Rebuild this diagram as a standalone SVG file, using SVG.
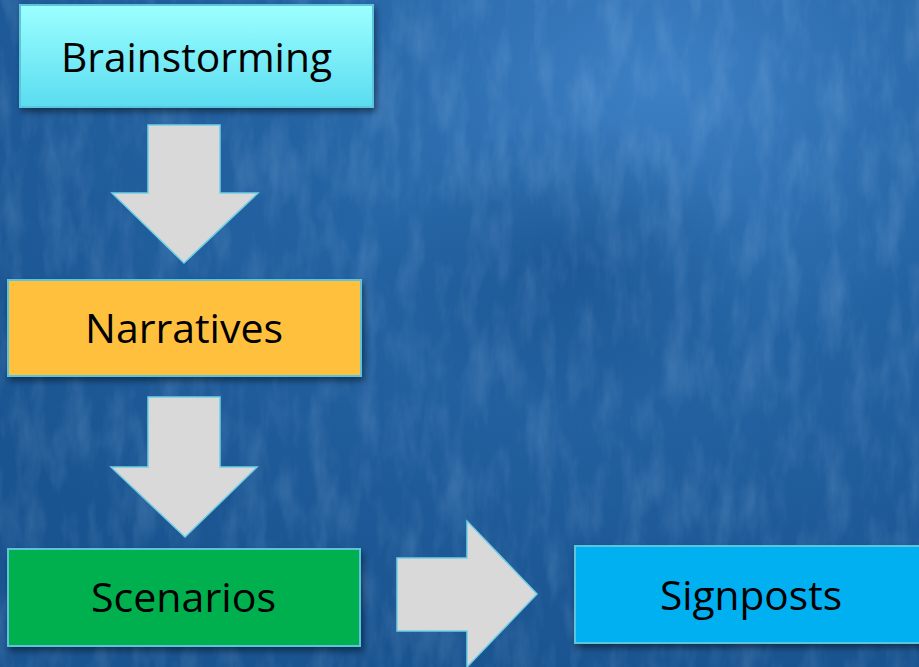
<svg xmlns="http://www.w3.org/2000/svg" width="919" height="667" viewBox="0 0 919 667">
<style>
.box{stroke:#5cc4dc;stroke-width:2;filter:url(#sh)}
.arr{fill:#d9d9d9;stroke:#6fcfe3;stroke-width:1.5;stroke-linejoin:miter}
.lbl{font-family:"Open Sans","Noto Sans","Liberation Sans",sans-serif;font-size:41px;fill:#000;text-anchor:start}
</style>
<defs>
<radialGradient id="bg1" cx="0.72" cy="0.12" r="0.9">
<stop offset="0" stop-color="#3d80c4"/>
<stop offset="0.45" stop-color="#2463a3"/>
<stop offset="1" stop-color="#1a5490"/>
</radialGradient>
<radialGradient id="dark" cx="0.62" cy="0.4" r="0.22">
<stop offset="0" stop-color="#0f4680" stop-opacity="0.5"/>
<stop offset="1" stop-color="#0f4680" stop-opacity="0"/>
</radialGradient>
<linearGradient id="cyan" x1="0" y1="0" x2="0" y2="1">
<stop offset="0" stop-color="#9cffff"/>
<stop offset="1" stop-color="#5adcf0"/>
</linearGradient>
<filter id="noise" x="0" y="0" width="100%" height="100%">
<feTurbulence type="fractalNoise" baseFrequency="0.045 0.015" numOctaves="4" seed="7" result="t"/>
<feColorMatrix type="matrix" values="0 0 0 0 0.55  0 0 0 0 0.75  0 0 0 0 1  0 0 0 1.1 -0.45" />
</filter>
<filter id="sh" x="-10%" y="-10%" width="125%" height="135%">
<feGaussianBlur in="SourceAlpha" stdDeviation="3"/>
<feOffset dx="2" dy="4" result="b"/>
<feFlood flood-color="#000" flood-opacity="0.45"/>
<feComposite in2="b" operator="in"/>
<feMerge><feMergeNode/><feMergeNode in="SourceGraphic"/></feMerge>
</filter>
</defs>
<g id="background">
<rect width="919" height="667" fill="url(#bg1)"/>
<rect width="919" height="667" fill="url(#dark)"/>
<rect width="919" height="667" filter="url(#noise)" opacity="0.28"/>
</g>
<g id="connectors">
<polygon class="arr" points="148,125 220,125 220,193 258,193 184,263 112,193 148,193"/>
<polygon class="arr" points="148,397 220,397 220,467 257,467 185,537 111,467 148,467"/>
<polygon class="arr" points="397,558 467,558 467,521 537,594 467,667 467,631 397,631"/>
</g>
<g id="brainstorming">
<rect class="box" x="20" y="5" width="353" height="102" fill="url(#cyan)"/>
<text class="lbl" x="61" y="72" textLength="271" lengthAdjust="spacingAndGlyphs">Brainstorming</text>
</g>
<g id="narratives">
<rect class="box" x="8" y="280" width="353" height="96" fill="#ffc03c"/>
<text class="lbl" x="85" y="343" textLength="198" lengthAdjust="spacingAndGlyphs">Narratives</text>
</g>
<g id="scenarios">
<rect class="box" x="8" y="549" width="352" height="97" fill="#00b050"/>
<text class="lbl" x="91" y="612" textLength="185" lengthAdjust="spacingAndGlyphs">Scenarios</text>
</g>
<g id="signposts">
<rect class="box" x="575" y="546" width="350" height="97" fill="#00b0f0"/>
<text class="lbl" x="660" y="610" textLength="182" lengthAdjust="spacingAndGlyphs">Signposts</text>
</g>
</svg>
